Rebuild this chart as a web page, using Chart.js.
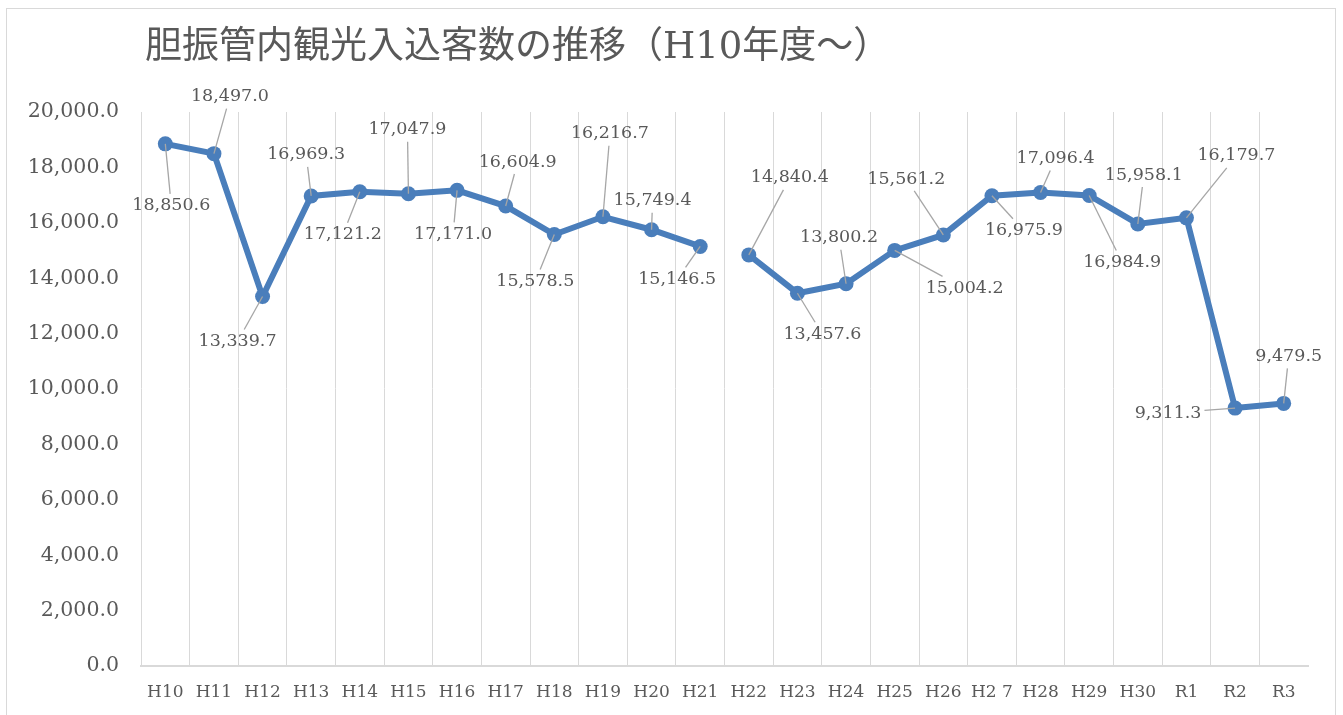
<!DOCTYPE html>
<html>
<head>
<meta charset="utf-8">
<script src="https://cdn.jsdelivr.net/npm/chart.js@4"></script>
<style>
  html, body { margin: 0; padding: 0; background: #fff; }
  #wrap { width: 1343px; height: 715px; }
</style>
</head>
<body>
<div id="wrap"><canvas id="visitors-chart"></canvas></div>
<script>
const titleText = '胆振管内観光入込客数の推移（H10年度～）';

const years = ['H10', 'H11', 'H12', 'H13', 'H14', 'H15', 'H16', 'H17', 'H18', 'H19', 'H20', 'H21',
  'H22', 'H23', 'H24', 'H25', 'H26', 'H2 7', 'H28', 'H29', 'H30', 'R1', 'R2', 'R3'];

const visitors = [18850.6, 18497.0, 13339.7, 16969.3, 17121.2, 17047.9, 17171.0, 16604.9, 15578.5, 16216.7, 15749.4, 15146.5,
  14840.4, 13457.6, 13800.2, 15004.2, 15561.2, 16975.9, 17096.4, 16984.9, 15958.1, 16179.7, 9311.3, 9479.5];

const yTicks = [0, 2000, 4000, 6000, 8000, 10000, 12000, 14000, 16000, 18000, 20000];

// line is broken between H21 and H22
const breakAfter = 11;

const blue = '#4a7ebb';
const textGray = '#595959';
const serif = '"DejaVu Serif", "Liberation Serif", serif';

// where each value label sits relative to its point (px)
const labelShift = [
  [6, 62], [16, -57], [-25, 45], [-5, -41], [-17, 43], [-1, -64], [-4, 44], [12, -44],
  [-19, 47], [7, -83], [1, -29], [-23, 33], [41, -77], [25, 41], [-7, -46], [70, 38],
  [-37, -56], [32, 35], [15, -34], [33, 67], [6, -49], [50, -62], [-67, 5], [5, -47]
];

function fmt(v) {
  return v.toLocaleString('en-US', { minimumFractionDigits: 1, maximumFractionDigits: 1 });
}

const decorations = {
  id: 'decorations',
  beforeDraw(chart) {
    let ctx = chart.ctx;
    ctx.save();
    ctx.strokeStyle = '#d9d9d9';
    ctx.lineWidth = 1;
    ctx.strokeRect(6.5, 8.5, 1329, 720);
    ctx.fillStyle = textGray;
    ctx.font = '37px "DejaVu Serif", "Noto Sans CJK JP", serif';
    ctx.textBaseline = 'middle';
    ctx.textAlign = 'left';
    ctx.fillText(titleText, 145, 48);
    ctx.restore();
  },
  afterDatasetsDraw(chart) {
    let ctx = chart.ctx;
    let meta = chart.getDatasetMeta(0);
    ctx.save();
    ctx.font = '17.5px ' + serif;
    ctx.textAlign = 'center';
    ctx.textBaseline = 'middle';
    meta.data.forEach((pt, i) => {
      let text = fmt(visitors[i]);
      let cx = pt.x + labelShift[i][0];
      let cy = pt.y + labelShift[i][1];
      let hw = ctx.measureText(text).width / 2 + 3;
      let hh = 12;
      let vx = pt.x - cx, vy = pt.y - cy;
      let t = Math.min(vx ? hw / Math.abs(vx) : Infinity, vy ? hh / Math.abs(vy) : Infinity);
      if (t < 1) {
        let sx = cx + vx * t, sy = cy + vy * t;
        if (Math.hypot(pt.x - sx, pt.y - sy) > 8) {
          ctx.strokeStyle = '#a6a6a6';
          ctx.lineWidth = 1.3;
          ctx.beginPath();
          ctx.moveTo(sx, sy);
          ctx.lineTo(pt.x, pt.y);
          ctx.stroke();
        }
      }
      ctx.fillStyle = textGray;
      ctx.fillText(text, cx, cy);
    });
    ctx.restore();
  }
};

let chartCtx = document.getElementById('visitors-chart').getContext('2d');
new Chart(chartCtx, {
  type: 'line',
  data: {
    labels: years,
    datasets: [{
      label: '観光入込客数',
      data: visitors,
      borderColor: blue,
      backgroundColor: blue,
      borderWidth: 6,
      pointRadius: 7.5,
      pointBorderWidth: 0,
      pointBackgroundColor: blue,
      tension: 0,
      segment: {
        borderColor: c => c.p0DataIndex === breakAfter ? 'rgba(0,0,0,0)' : undefined
      }
    }]
  },
  options: {
    responsive: true,
    maintainAspectRatio: false,
    animation: false,
    layout: { padding: { top: 112, right: 35, bottom: 0, left: 0 } },
    plugins: {
      legend: { display: false },
      title: { display: false },
      tooltip: { enabled: false }
    },
    scales: {
      x: {
        type: 'category',
        offset: true,
        grid: {
          offset: true,
          drawTicks: false,
          color: c => c.type === 'tick' ? '#d9d9d9' : 'rgba(0,0,0,0)'
        },
        border: { display: true, color: '#d9d9d9', width: 2 },
        ticks: {
          padding: 16,
          color: textGray,
          font: { family: serif, size: 17 },
          maxRotation: 0,
          autoSkip: false
        },
        afterFit: s => { s.height = 49; }
      },
      y: {
        min: 0,
        max: 20000,
        afterBuildTicks: s => { s.ticks = yTicks.map(v => ({ value: v })); },
        grid: { display: false, drawTicks: false },
        border: { display: false },
        ticks: {
          padding: 22,
          color: textGray,
          font: { family: serif, size: 20.5 },
          callback: v => fmt(v)
        },
        afterFit: s => { s.width = 141; }
      }
    }
  },
  plugins: [decorations]
});
</script>
</body>
</html>
